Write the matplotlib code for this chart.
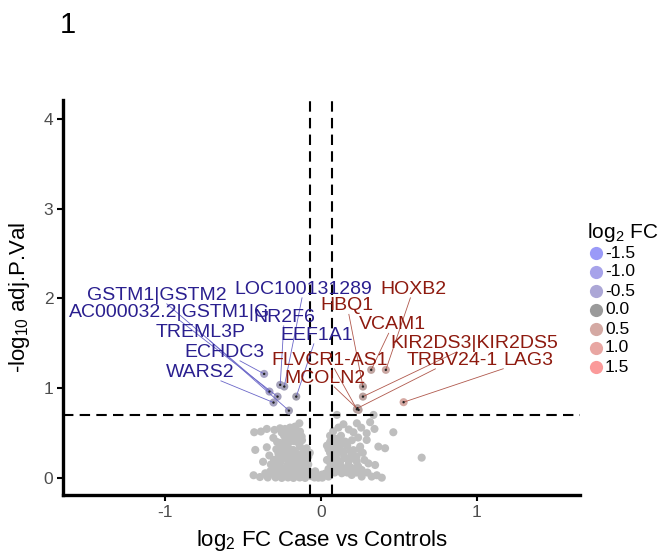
import matplotlib
matplotlib.use("Agg")
import matplotlib.pyplot as plt
from matplotlib.lines import Line2D
from matplotlib.colors import LinearSegmentedColormap
import numpy as np

plt.rcParams['font.family'] = ['Liberation Sans', 'DejaVu Sans']
plt.rcParams['mathtext.fontset'] = 'custom'
plt.rcParams['mathtext.rm'] = 'Liberation Sans'
plt.rcParams['mathtext.it'] = 'Liberation Sans'
plt.rcParams['axes.unicode_minus'] = False

# ---------------- data ----------------
gray_left_fc = [-0.427, -0.384, -0.346, -0.297, -0.261, -0.229, -0.197, -0.165, -0.137,
                -0.218, -0.176, -0.133, -0.250, -0.155, -0.190,
                -0.122, -0.304, -0.197, -0.235, -0.160,
                -0.420, -0.346, -0.240, -0.272, -0.218, -0.176, -0.133, -0.101, -0.150, -0.200, -0.260, -0.120,
                -0.240, -0.197, -0.155, -0.112, -0.080, -0.300, -0.330, -0.285, -0.090, -0.070,
                -0.280, -0.230, -0.190, -0.150, -0.110, -0.080, -0.260, -0.210, -0.170, -0.130, -0.320, -0.370,
                -0.431, -0.356, -0.324, -0.300, -0.270, -0.245, -0.220, -0.195, -0.170, -0.145, -0.120, -0.095,
                -0.075, -0.060, -0.390, -0.340, -0.290, -0.250, -0.210, -0.175, -0.135, -0.100, -0.035, -0.040,
                -0.015, 0.007, 0.010,
                -0.280, -0.260, -0.230, -0.200, -0.180, -0.160, -0.140, -0.120, -0.230, -0.170, -0.270, -0.250,
                -0.210, -0.190, -0.150, -0.130, -0.110, -0.090, -0.290, -0.180, -0.220, -0.140, -0.260, -0.310]
gray_left_p = [0.509, 0.517, 0.546, 0.535, 0.553, 0.546, 0.561, 0.572, 0.609,
               0.498, 0.498, 0.517, 0.505, 0.530, 0.525,
               0.461, 0.446, 0.446, 0.470, 0.455,
               0.312, 0.342, 0.349, 0.275, 0.368, 0.312, 0.349, 0.294, 0.400, 0.400, 0.390, 0.420,
               0.219, 0.238, 0.201, 0.219, 0.238, 0.200, 0.250, 0.320, 0.330, 0.280,
               0.126, 0.110, 0.100, 0.120, 0.110, 0.150, 0.170, 0.160, 0.170, 0.160, 0.150, 0.180,
               0.030, 0.052, 0.074, 0.040, 0.060, 0.030, 0.065, 0.035, 0.060, 0.030, 0.060, 0.030,
               0.070, 0.020, 0.010, 0.005, 0.005, 0.000, 0.005, 0.000, 0.005, 0.000, 0.074, 0.005,
               0.003, 0.037, 0.003,
               0.400, 0.330, 0.280, 0.320, 0.260, 0.280, 0.240, 0.270, 0.400, 0.410, 0.240, 0.080,
               0.120, 0.050, 0.080, 0.100, 0.160, 0.190, 0.090, 0.200, 0.220, 0.180, 0.120, 0.080]
gray_right_fc = [0.104, 0.339, 0.232, 0.114, 0.146, 0.317, 0.345, 0.210, 0.295, 0.466, 0.080, 0.180, 0.260,
                 0.295, 0.370, 0.413, 0.648, 0.253, 0.306, 0.349, 0.392,
                 0.114, 0.157, 0.093, 0.146, 0.199, 0.071, 0.125, 0.178, 0.231, 0.263, 0.071, 0.135, 0.199,
                 0.263, 0.327, 0.050,
                 0.060, 0.090, 0.130, 0.200, 0.240, 0.060, 0.050, 0.080, 0.120, 0.170, 0.210, 0.270, 0.230,
                 0.100, 0.160, 0.060, 0.100, 0.150, 0.200, 0.240, 0.280, 0.090, 0.170, 0.230, 0.300, 0.360, 0.030,
                 0.040, 0.060, 0.080, 0.110, 0.130, 0.070, 0.100, 0.150, 0.180, 0.190, 0.120, 0.050, 0.040,
                 0.080, 0.220, 0.140, 0.250, 0.200]
gray_right_p = [0.702, 0.702, 0.609, 0.561, 0.598, 0.621, 0.546, 0.509, 0.498, 0.509, 0.520, 0.540, 0.560,
                0.423, 0.349, 0.331, 0.226, 0.349, 0.162, 0.144, 0.003,
                0.423, 0.405, 0.349, 0.294, 0.256, 0.238, 0.182, 0.144, 0.182, 0.089, 0.089, 0.052, 0.033,
                0.015, 0.015, 0.015,
                0.470, 0.440, 0.470, 0.420, 0.450, 0.400, 0.320, 0.290, 0.350, 0.360, 0.310, 0.280, 0.240,
                0.220, 0.220, 0.170, 0.150, 0.100, 0.110, 0.130, 0.200, 0.060, 0.060, 0.060, 0.060, 0.030, 0.050,
                0.200, 0.280, 0.180, 0.280, 0.130, 0.370, 0.400, 0.240, 0.190, 0.300, 0.090, 0.100, 0.360,
                0.110, 0.210, 0.380, 0.320, 0.080]

down_genes = ["GSTM1|GSTM2", "AC000032.2|GSTM1|G", "TREML3P", "ECHDC3", "WARS2",
              "LOC100131289", "NR2F6", "EEF1A1"]
down_fc = [-0.329, -0.277, -0.204, -0.363, -0.303, -0.234, -0.260, -0.157]
down_p = [0.962, 0.906, 0.750, 1.159, 0.840, 1.018, 1.037, 0.906]

up_genes = ["HOXB2", "HBQ1", "VCAM1", "KIR2DS3|KIR2DS5", "FLVCR1-AS1", "TRBV24-1", "LAG3", "MCOLN2"]
up_fc = [0.418, 0.271, 0.324, 0.271, 0.232, 0.236, 0.532, 0.243]
up_p = [1.204, 1.018, 1.204, 0.906, 0.765, 0.777, 0.844, 0.758]

legend_values = [-1.5, -1.0, -0.5, 0.0, 0.5, 1.0, 1.5]
legend_labels = ["-1.5", "-1.0", "-0.5", "0.0", "0.5", "1.0", "1.5"]

fc_cutoff = 0.07
p_cutoff = 0.7

# ---------------- layout (label placement, repel-like) ----------------
down_text_xy = [(-1.052, 2.034), (-0.972, 1.845), (-0.773, 1.622), (-0.619, 1.399), (-0.773, 1.176),
                (-0.109, 2.101), (-0.234, 1.789), (-0.026, 1.589)]
up_text_xy = [(0.594, 2.101), (0.170, 1.917), (0.462, 1.706), (0.988, 1.499), (0.058, 1.310),
              (0.844, 1.310), (1.332, 1.310), (0.029, 1.109)]

legend_colors = ["#9a9af8", "#a7a3ea", "#aca7d6", "#9a9a9a", "#d4a9a3", "#e8a6a2", "#fb9a9a"]
cmap = LinearSegmentedColormap.from_list(
    "fc", [((v + 1.5) / 3.0, c) for v, c in zip(legend_values, legend_colors)])

fig = plt.figure(figsize=(6.66, 5.53), dpi=100)
ax = fig.add_axes([63 / 666, 1 - 495 / 553, (580 - 63) / 666, (495 - 100) / 553])

ax.set_xlim(-1.654, 1.664)
ax.set_ylim(-0.19, 4.21)

# gray non-significant points
ax.scatter(gray_left_fc + gray_right_fc, gray_left_p + gray_right_p, s=34, color="#bebebe",
           edgecolors="none", zorder=2)

# threshold lines
dash = (5, 3)
for xv in (-fc_cutoff, fc_cutoff):
    ax.axvline(xv, color="black", lw=1.5, dashes=dash, zorder=3)
ax.axhline(p_cutoff, color="black", lw=1.5, dashes=dash, zorder=3)

# significant points
def norm(v):
    return (np.asarray(v) + 1.5) / 3.0

ax.scatter(down_fc, down_p, s=34, c=cmap(norm(down_fc)), edgecolors="none", zorder=4)
ax.scatter(up_fc, up_p, s=34, c=cmap(norm(up_fc)), edgecolors="none", zorder=4)
ax.scatter(down_fc + up_fc, down_p + up_p, s=3, color="#222222", edgecolors="none", zorder=5)

# labels
blue_txt = "#2a1f8f"
red_txt = "#8e1a0f"
texts = []
for g, (tx, ty), x, y in zip(down_genes, down_text_xy, down_fc, down_p):
    t = ax.text(tx, ty, g, color=blue_txt, fontsize=14, ha="center", va="center", zorder=7)
    texts.append((t, x, y, "#6a66c8"))
for g, (tx, ty), x, y in zip(up_genes, up_text_xy, up_fc, up_p):
    t = ax.text(tx, ty, g, color=red_txt, fontsize=14, ha="center", va="center", zorder=7)
    texts.append((t, x, y, "#b0584c"))

# axes styling
for s in ("top", "right"):
    ax.spines[s].set_visible(False)
for s in ("left", "bottom"):
    ax.spines[s].set_linewidth(2.4)
ax.set_xticks([-1, 0, 1])
ax.set_yticks([0, 1, 2, 3, 4])
ax.tick_params(axis="both", length=4, width=1.5, color="black", labelsize=12.5,
               labelcolor="#4d4d4d", pad=3)
ax.set_xlabel(r"log$_2$ FC Case vs Controls", fontsize=16, labelpad=6)
ax.set_ylabel(r"-log$_{10}$ adj.P.Val", fontsize=16, labelpad=8)

fig.text(60 / 666, 1 - 25 / 553, "1", fontsize=21, ha="left", va="center")

# legend (manual)
fig.text(587 / 666, 1 - 232 / 553, r"log$_2$ FC", fontsize=15, ha="left", va="center")
for i, (lab, col) in enumerate(zip(legend_labels, legend_colors)):
    yy = 1 - (253 + i * 19) / 553
    fig.add_artist(Line2D([596 / 666], [yy], marker="o", markersize=9.5, color=col,
                          markeredgewidth=0, linestyle="none", transform=fig.transFigure))
    fig.text(605 / 666, yy, lab, fontsize=12.5, ha="left", va="center")

# segments from label box edge to point
fig.canvas.draw()
renderer = fig.canvas.get_renderer()
inv = ax.transData.inverted()
for t, x, y, col in texts:
    bb = t.get_window_extent(renderer)
    cx, cy = (bb.x0 + bb.x1) / 2, (bb.y0 + bb.y1) / 2
    px, py = ax.transData.transform((x, y))
    dx, dy = px - cx, py - cy
    tt = []
    if dx != 0:
        tt.append(((bb.x1 if dx > 0 else bb.x0) - cx) / dx)
    if dy != 0:
        tt.append(((bb.y1 if dy > 0 else bb.y0) - cy) / dy)
    tmin = min([v for v in tt if v > 0] + [1.0])
    if tmin >= 1.0:
        continue
    sx, sy = cx + dx * tmin, cy + dy * tmin
    (dsx, dsy) = inv.transform((sx, sy))
    ax.plot([dsx, x], [dsy, y], color=col, lw=0.6, zorder=4.5)

fig.savefig("out.png", dpi=100)
